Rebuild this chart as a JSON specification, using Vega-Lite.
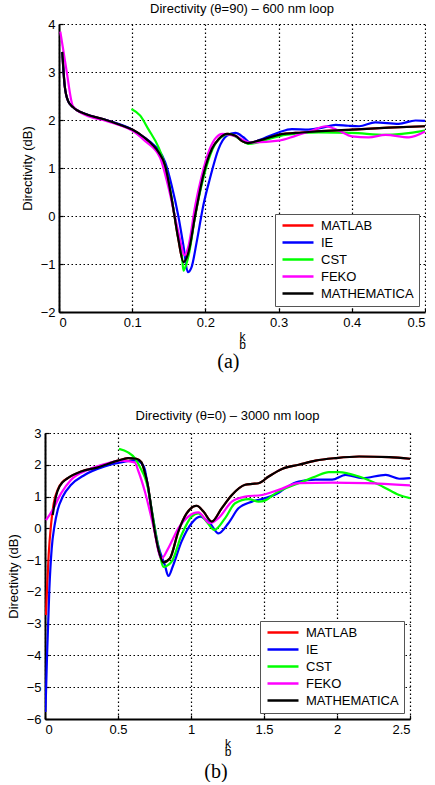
{
  "$schema": "https://vega.github.io/schema/vega-lite/v6.json",
  "padding": {"left": 7, "top": 3, "right": 0, "bottom": 0},
  "config": {
    "view": {"stroke": null},
    "font": "Liberation Sans",
    "axis": {"labelFont": "Liberation Sans", "labelFontSize": 13, "labelColor": "black", "titleFont": "Liberation Sans", "titleFontSize": 13, "titleFontWeight": "normal", "titleColor": "black", "grid": true, "gridColor": "black", "gridDash": [1.5, 2.5], "gridWidth": 1.2, "domainColor": "black", "domainWidth": 2, "ticks": true, "tickSize": -4, "tickColor": "black", "tickWidth": 1.2, "labelPadding": 8},
    "title": {"font": "Liberation Sans", "fontSize": 13, "fontWeight": "normal", "color": "black"},
    "legend": {"offset": 6, "symbolType": "M-1,0H6.75", "symbolSize": 64, "symbolStrokeWidth": 2.5, "labelFont": "Liberation Sans", "labelFontSize": 13, "labelColor": "black", "strokeColor": "#555555", "fillColor": "white", "padding": 5, "rowPadding": 3, "labelOffset": 28}
  },
  "datasets": {
    "a": [
      {"s": "MATLAB", "k": 0.0045, "D": 3.42}, {"s": "MATLAB", "k": 0.0078, "D": 2.71}, {"s": "MATLAB", "k": 0.0123, "D": 2.40}, {"s": "MATLAB", "k": 0.019, "D": 2.27}, {"s": "MATLAB", "k": 0.037, "D": 2.12}, {"s": "MATLAB", "k": 0.06, "D": 2.02}, {"s": "MATLAB", "k": 0.083, "D": 1.9}, {"s": "MATLAB", "k": 0.1, "D": 1.8}, {"s": "MATLAB", "k": 0.117, "D": 1.63}, {"s": "MATLAB", "k": 0.128, "D": 1.48}, {"s": "MATLAB", "k": 0.136, "D": 1.33}, {"s": "MATLAB", "k": 0.145, "D": 1.05}, {"s": "MATLAB", "k": 0.154, "D": 0.35}, {"s": "MATLAB", "k": 0.163, "D": -0.48}, {"s": "MATLAB", "k": 0.17, "D": -0.96}, {"s": "MATLAB", "k": 0.177, "D": -0.75}, {"s": "MATLAB", "k": 0.186, "D": 0.01}, {"s": "MATLAB", "k": 0.197, "D": 0.84}, {"s": "MATLAB", "k": 0.209, "D": 1.4}, {"s": "MATLAB", "k": 0.218, "D": 1.6}, {"s": "MATLAB", "k": 0.23, "D": 1.71}, {"s": "MATLAB", "k": 0.241, "D": 1.67}, {"s": "MATLAB", "k": 0.25, "D": 1.56}, {"s": "MATLAB", "k": 0.258, "D": 1.52}, {"s": "MATLAB", "k": 0.273, "D": 1.57}, {"s": "MATLAB", "k": 0.3, "D": 1.69}, {"s": "MATLAB", "k": 0.332, "D": 1.74}, {"s": "MATLAB", "k": 0.4, "D": 1.8}, {"s": "MATLAB", "k": 0.45, "D": 1.84}, {"s": "MATLAB", "k": 0.5, "D": 1.87},
      {"s": "IE", "k": 0.0045, "D": 3.42}, {"s": "IE", "k": 0.0078, "D": 2.71}, {"s": "IE", "k": 0.0123, "D": 2.40}, {"s": "IE", "k": 0.019, "D": 2.27}, {"s": "IE", "k": 0.037, "D": 2.12}, {"s": "IE", "k": 0.06, "D": 2.02}, {"s": "IE", "k": 0.083, "D": 1.91}, {"s": "IE", "k": 0.1, "D": 1.8}, {"s": "IE", "k": 0.117, "D": 1.63}, {"s": "IE", "k": 0.128, "D": 1.5}, {"s": "IE", "k": 0.136, "D": 1.38}, {"s": "IE", "k": 0.145, "D": 1.12}, {"s": "IE", "k": 0.154, "D": 0.63}, {"s": "IE", "k": 0.163, "D": 0.0}, {"s": "IE", "k": 0.17, "D": -0.62}, {"s": "IE", "k": 0.176, "D": -1.17}, {"s": "IE", "k": 0.181, "D": -1.07}, {"s": "IE", "k": 0.188, "D": -0.55}, {"s": "IE", "k": 0.197, "D": 0.21}, {"s": "IE", "k": 0.206, "D": 0.77}, {"s": "IE", "k": 0.218, "D": 1.4}, {"s": "IE", "k": 0.229, "D": 1.67}, {"s": "IE", "k": 0.241, "D": 1.73}, {"s": "IE", "k": 0.252, "D": 1.64}, {"s": "IE", "k": 0.261, "D": 1.53}, {"s": "IE", "k": 0.28, "D": 1.62}, {"s": "IE", "k": 0.3, "D": 1.74}, {"s": "IE", "k": 0.318, "D": 1.81}, {"s": "IE", "k": 0.341, "D": 1.8}, {"s": "IE", "k": 0.36, "D": 1.84}, {"s": "IE", "k": 0.378, "D": 1.9}, {"s": "IE", "k": 0.395, "D": 1.88}, {"s": "IE", "k": 0.41, "D": 1.87}, {"s": "IE", "k": 0.432, "D": 1.95}, {"s": "IE", "k": 0.464, "D": 1.92}, {"s": "IE", "k": 0.487, "D": 1.99}, {"s": "IE", "k": 0.5, "D": 1.98},
      {"s": "CST", "k": 0.099, "D": 2.23}, {"s": "CST", "k": 0.111, "D": 2.09}, {"s": "CST", "k": 0.122, "D": 1.81}, {"s": "CST", "k": 0.136, "D": 1.43}, {"s": "CST", "k": 0.145, "D": 1.05}, {"s": "CST", "k": 0.158, "D": 0.0}, {"s": "CST", "k": 0.163, "D": -0.45}, {"s": "CST", "k": 0.168, "D": -0.83}, {"s": "CST", "k": 0.17, "D": -1.14}, {"s": "CST", "k": 0.174, "D": -1.0}, {"s": "CST", "k": 0.177, "D": -0.83}, {"s": "CST", "k": 0.186, "D": 0.0}, {"s": "CST", "k": 0.198, "D": 0.84}, {"s": "CST", "k": 0.21, "D": 1.4}, {"s": "CST", "k": 0.222, "D": 1.65}, {"s": "CST", "k": 0.232, "D": 1.71}, {"s": "CST", "k": 0.245, "D": 1.62}, {"s": "CST", "k": 0.259, "D": 1.5}, {"s": "CST", "k": 0.286, "D": 1.6}, {"s": "CST", "k": 0.309, "D": 1.69}, {"s": "CST", "k": 0.355, "D": 1.74}, {"s": "CST", "k": 0.4, "D": 1.73}, {"s": "CST", "k": 0.446, "D": 1.69}, {"s": "CST", "k": 0.5, "D": 1.78},
      {"s": "FEKO", "k": 0.0018, "D": 3.84}, {"s": "FEKO", "k": 0.01, "D": 3.06}, {"s": "FEKO", "k": 0.019, "D": 2.29}, {"s": "FEKO", "k": 0.037, "D": 2.1}, {"s": "FEKO", "k": 0.06, "D": 2.0}, {"s": "FEKO", "k": 0.083, "D": 1.89}, {"s": "FEKO", "k": 0.1, "D": 1.78}, {"s": "FEKO", "k": 0.117, "D": 1.57}, {"s": "FEKO", "k": 0.138, "D": 1.22}, {"s": "FEKO", "k": 0.149, "D": 0.63}, {"s": "FEKO", "k": 0.161, "D": -0.2}, {"s": "FEKO", "k": 0.167, "D": -0.6}, {"s": "FEKO", "k": 0.171, "D": -0.82}, {"s": "FEKO", "k": 0.177, "D": -0.62}, {"s": "FEKO", "k": 0.186, "D": 0.21}, {"s": "FEKO", "k": 0.195, "D": 0.84}, {"s": "FEKO", "k": 0.206, "D": 1.4}, {"s": "FEKO", "k": 0.223, "D": 1.71}, {"s": "FEKO", "k": 0.24, "D": 1.67}, {"s": "FEKO", "k": 0.261, "D": 1.53}, {"s": "FEKO", "k": 0.3, "D": 1.57}, {"s": "FEKO", "k": 0.323, "D": 1.67}, {"s": "FEKO", "k": 0.346, "D": 1.78}, {"s": "FEKO", "k": 0.364, "D": 1.87}, {"s": "FEKO", "k": 0.382, "D": 1.78}, {"s": "FEKO", "k": 0.4, "D": 1.66}, {"s": "FEKO", "k": 0.423, "D": 1.64}, {"s": "FEKO", "k": 0.446, "D": 1.69}, {"s": "FEKO", "k": 0.478, "D": 1.64}, {"s": "FEKO", "k": 0.5, "D": 1.76},
      {"s": "MATHEMATICA", "k": 0.0045, "D": 3.42}, {"s": "MATHEMATICA", "k": 0.0078, "D": 2.71}, {"s": "MATHEMATICA", "k": 0.0123, "D": 2.40}, {"s": "MATHEMATICA", "k": 0.019, "D": 2.27}, {"s": "MATHEMATICA", "k": 0.037, "D": 2.12}, {"s": "MATHEMATICA", "k": 0.06, "D": 2.02}, {"s": "MATHEMATICA", "k": 0.083, "D": 1.9}, {"s": "MATHEMATICA", "k": 0.1, "D": 1.8}, {"s": "MATHEMATICA", "k": 0.117, "D": 1.63}, {"s": "MATHEMATICA", "k": 0.128, "D": 1.48}, {"s": "MATHEMATICA", "k": 0.136, "D": 1.33}, {"s": "MATHEMATICA", "k": 0.145, "D": 1.05}, {"s": "MATHEMATICA", "k": 0.154, "D": 0.35}, {"s": "MATHEMATICA", "k": 0.163, "D": -0.48}, {"s": "MATHEMATICA", "k": 0.17, "D": -0.96}, {"s": "MATHEMATICA", "k": 0.177, "D": -0.75}, {"s": "MATHEMATICA", "k": 0.186, "D": 0.01}, {"s": "MATHEMATICA", "k": 0.197, "D": 0.84}, {"s": "MATHEMATICA", "k": 0.209, "D": 1.4}, {"s": "MATHEMATICA", "k": 0.218, "D": 1.6}, {"s": "MATHEMATICA", "k": 0.23, "D": 1.71}, {"s": "MATHEMATICA", "k": 0.241, "D": 1.67}, {"s": "MATHEMATICA", "k": 0.25, "D": 1.56}, {"s": "MATHEMATICA", "k": 0.258, "D": 1.52}, {"s": "MATHEMATICA", "k": 0.273, "D": 1.57}, {"s": "MATHEMATICA", "k": 0.3, "D": 1.69}, {"s": "MATHEMATICA", "k": 0.332, "D": 1.74}, {"s": "MATHEMATICA", "k": 0.4, "D": 1.8}, {"s": "MATHEMATICA", "k": 0.45, "D": 1.84}, {"s": "MATHEMATICA", "k": 0.5, "D": 1.87}
    ],
    "b": [
      {"s": "MATLAB", "k": 0.007, "D": -2.73}, {"s": "MATLAB", "k": 0.014, "D": -1.89}, {"s": "MATLAB", "k": 0.025, "D": -0.84}, {"s": "MATLAB", "k": 0.041, "D": 0.1}, {"s": "MATLAB", "k": 0.06, "D": 0.79}, {"s": "MATLAB", "k": 0.09, "D": 1.25}, {"s": "MATLAB", "k": 0.12, "D": 1.46}, {"s": "MATLAB", "k": 0.156, "D": 1.58}, {"s": "MATLAB", "k": 0.248, "D": 1.79}, {"s": "MATLAB", "k": 0.362, "D": 1.92}, {"s": "MATLAB", "k": 0.5, "D": 2.13}, {"s": "MATLAB", "k": 0.569, "D": 2.21}, {"s": "MATLAB", "k": 0.626, "D": 2.19}, {"s": "MATLAB", "k": 0.66, "D": 2.08}, {"s": "MATLAB", "k": 0.684, "D": 1.75}, {"s": "MATLAB", "k": 0.706, "D": 1.32}, {"s": "MATLAB", "k": 0.718, "D": 0.95}, {"s": "MATLAB", "k": 0.752, "D": -0.1}, {"s": "MATLAB", "k": 0.787, "D": -0.84}, {"s": "MATLAB", "k": 0.81, "D": -1.07}, {"s": "MATLAB", "k": 0.855, "D": -0.95}, {"s": "MATLAB", "k": 0.913, "D": -0.1}, {"s": "MATLAB", "k": 0.97, "D": 0.47}, {"s": "MATLAB", "k": 1.039, "D": 0.71}, {"s": "MATLAB", "k": 1.085, "D": 0.53}, {"s": "MATLAB", "k": 1.142, "D": 0.21}, {"s": "MATLAB", "k": 1.21, "D": 0.63}, {"s": "MATLAB", "k": 1.28, "D": 1.05}, {"s": "MATLAB", "k": 1.371, "D": 1.37}, {"s": "MATLAB", "k": 1.42, "D": 1.4}, {"s": "MATLAB", "k": 1.463, "D": 1.42}, {"s": "MATLAB", "k": 1.532, "D": 1.63}, {"s": "MATLAB", "k": 1.623, "D": 1.87}, {"s": "MATLAB", "k": 1.738, "D": 2.0}, {"s": "MATLAB", "k": 1.853, "D": 2.13}, {"s": "MATLAB", "k": 1.99, "D": 2.21}, {"s": "MATLAB", "k": 2.151, "D": 2.26}, {"s": "MATLAB", "k": 2.357, "D": 2.24}, {"s": "MATLAB", "k": 2.5, "D": 2.19},
      {"s": "IE", "k": 0.003, "D": -5.78}, {"s": "IE", "k": 0.014, "D": -4.0}, {"s": "IE", "k": 0.03, "D": -1.89}, {"s": "IE", "k": 0.046, "D": -0.63}, {"s": "IE", "k": 0.065, "D": 0.08}, {"s": "IE", "k": 0.087, "D": 0.58}, {"s": "IE", "k": 0.122, "D": 1.0}, {"s": "IE", "k": 0.179, "D": 1.37}, {"s": "IE", "k": 0.271, "D": 1.68}, {"s": "IE", "k": 0.408, "D": 1.95}, {"s": "IE", "k": 0.546, "D": 2.1}, {"s": "IE", "k": 0.626, "D": 2.14}, {"s": "IE", "k": 0.66, "D": 2.05}, {"s": "IE", "k": 0.684, "D": 1.85}, {"s": "IE", "k": 0.695, "D": 1.58}, {"s": "IE", "k": 0.729, "D": 0.63}, {"s": "IE", "k": 0.775, "D": -0.53}, {"s": "IE", "k": 0.821, "D": -1.16}, {"s": "IE", "k": 0.845, "D": -1.5}, {"s": "IE", "k": 0.875, "D": -1.2}, {"s": "IE", "k": 0.935, "D": -0.42}, {"s": "IE", "k": 1.004, "D": 0.16}, {"s": "IE", "k": 1.062, "D": 0.37}, {"s": "IE", "k": 1.13, "D": 0.16}, {"s": "IE", "k": 1.188, "D": -0.16}, {"s": "IE", "k": 1.256, "D": 0.16}, {"s": "IE", "k": 1.325, "D": 0.63}, {"s": "IE", "k": 1.417, "D": 0.84}, {"s": "IE", "k": 1.509, "D": 0.95}, {"s": "IE", "k": 1.6, "D": 1.12}, {"s": "IE", "k": 1.65, "D": 1.28}, {"s": "IE", "k": 1.738, "D": 1.47}, {"s": "IE", "k": 1.853, "D": 1.53}, {"s": "IE", "k": 1.967, "D": 1.53}, {"s": "IE", "k": 2.059, "D": 1.68}, {"s": "IE", "k": 2.173, "D": 1.58}, {"s": "IE", "k": 2.334, "D": 1.68}, {"s": "IE", "k": 2.426, "D": 1.56}, {"s": "IE", "k": 2.5, "D": 1.58},
      {"s": "CST", "k": 0.507, "D": 2.5}, {"s": "CST", "k": 0.569, "D": 2.39}, {"s": "CST", "k": 0.615, "D": 2.21}, {"s": "CST", "k": 0.66, "D": 1.84}, {"s": "CST", "k": 0.684, "D": 1.6}, {"s": "CST", "k": 0.706, "D": 1.25}, {"s": "CST", "k": 0.73, "D": 0.6}, {"s": "CST", "k": 0.76, "D": -0.2}, {"s": "CST", "k": 0.79, "D": -0.9}, {"s": "CST", "k": 0.81, "D": -1.21}, {"s": "CST", "k": 0.867, "D": -1.05}, {"s": "CST", "k": 0.935, "D": -0.21}, {"s": "CST", "k": 1.004, "D": 0.37}, {"s": "CST", "k": 1.05, "D": 0.47}, {"s": "CST", "k": 1.107, "D": 0.21}, {"s": "CST", "k": 1.16, "D": -0.05}, {"s": "CST", "k": 1.234, "D": 0.32}, {"s": "CST", "k": 1.302, "D": 0.79}, {"s": "CST", "k": 1.394, "D": 0.92}, {"s": "CST", "k": 1.463, "D": 0.84}, {"s": "CST", "k": 1.509, "D": 0.88}, {"s": "CST", "k": 1.578, "D": 1.1}, {"s": "CST", "k": 1.738, "D": 1.42}, {"s": "CST", "k": 1.853, "D": 1.63}, {"s": "CST", "k": 1.944, "D": 1.77}, {"s": "CST", "k": 2.013, "D": 1.77}, {"s": "CST", "k": 2.151, "D": 1.63}, {"s": "CST", "k": 2.311, "D": 1.32}, {"s": "CST", "k": 2.426, "D": 1.05}, {"s": "CST", "k": 2.5, "D": 0.95},
      {"s": "FEKO", "k": 0.007, "D": 0.26}, {"s": "FEKO", "k": 0.053, "D": 0.58}, {"s": "FEKO", "k": 0.11, "D": 1.1}, {"s": "FEKO", "k": 0.179, "D": 1.53}, {"s": "FEKO", "k": 0.294, "D": 1.84}, {"s": "FEKO", "k": 0.408, "D": 2.02}, {"s": "FEKO", "k": 0.523, "D": 2.13}, {"s": "FEKO", "k": 0.615, "D": 2.07}, {"s": "FEKO", "k": 0.638, "D": 1.82}, {"s": "FEKO", "k": 0.684, "D": 1.16}, {"s": "FEKO", "k": 0.741, "D": 0.1}, {"s": "FEKO", "k": 0.798, "D": -0.95}, {"s": "FEKO", "k": 0.844, "D": -0.63}, {"s": "FEKO", "k": 0.913, "D": 0.0}, {"s": "FEKO", "k": 0.981, "D": 0.37}, {"s": "FEKO", "k": 1.05, "D": 0.5}, {"s": "FEKO", "k": 1.13, "D": 0.16}, {"s": "FEKO", "k": 1.188, "D": 0.32}, {"s": "FEKO", "k": 1.28, "D": 0.84}, {"s": "FEKO", "k": 1.371, "D": 1.0}, {"s": "FEKO", "k": 1.486, "D": 1.05}, {"s": "FEKO", "k": 1.6, "D": 1.21}, {"s": "FEKO", "k": 1.738, "D": 1.42}, {"s": "FEKO", "k": 1.967, "D": 1.44}, {"s": "FEKO", "k": 2.197, "D": 1.42}, {"s": "FEKO", "k": 2.5, "D": 1.35},
      {"s": "MATHEMATICA", "k": 0.053, "D": 0.42}, {"s": "MATHEMATICA", "k": 0.075, "D": 1.0}, {"s": "MATHEMATICA", "k": 0.099, "D": 1.32}, {"s": "MATHEMATICA", "k": 0.156, "D": 1.58}, {"s": "MATHEMATICA", "k": 0.248, "D": 1.79}, {"s": "MATHEMATICA", "k": 0.362, "D": 1.92}, {"s": "MATHEMATICA", "k": 0.5, "D": 2.13}, {"s": "MATHEMATICA", "k": 0.569, "D": 2.21}, {"s": "MATHEMATICA", "k": 0.626, "D": 2.19}, {"s": "MATHEMATICA", "k": 0.66, "D": 2.08}, {"s": "MATHEMATICA", "k": 0.684, "D": 1.75}, {"s": "MATHEMATICA", "k": 0.706, "D": 1.32}, {"s": "MATHEMATICA", "k": 0.718, "D": 0.95}, {"s": "MATHEMATICA", "k": 0.752, "D": -0.1}, {"s": "MATHEMATICA", "k": 0.787, "D": -0.84}, {"s": "MATHEMATICA", "k": 0.81, "D": -1.07}, {"s": "MATHEMATICA", "k": 0.855, "D": -0.95}, {"s": "MATHEMATICA", "k": 0.913, "D": -0.1}, {"s": "MATHEMATICA", "k": 0.97, "D": 0.47}, {"s": "MATHEMATICA", "k": 1.039, "D": 0.71}, {"s": "MATHEMATICA", "k": 1.085, "D": 0.53}, {"s": "MATHEMATICA", "k": 1.142, "D": 0.21}, {"s": "MATHEMATICA", "k": 1.21, "D": 0.63}, {"s": "MATHEMATICA", "k": 1.28, "D": 1.05}, {"s": "MATHEMATICA", "k": 1.371, "D": 1.37}, {"s": "MATHEMATICA", "k": 1.42, "D": 1.4}, {"s": "MATHEMATICA", "k": 1.463, "D": 1.42}, {"s": "MATHEMATICA", "k": 1.532, "D": 1.63}, {"s": "MATHEMATICA", "k": 1.623, "D": 1.87}, {"s": "MATHEMATICA", "k": 1.738, "D": 2.0}, {"s": "MATHEMATICA", "k": 1.853, "D": 2.13}, {"s": "MATHEMATICA", "k": 1.99, "D": 2.21}, {"s": "MATHEMATICA", "k": 2.151, "D": 2.26}, {"s": "MATHEMATICA", "k": 2.357, "D": 2.24}, {"s": "MATHEMATICA", "k": 2.5, "D": 2.19}
    ]
  },
  "vconcat": [
    {
      "title": {"text": "(a)", "orient": "bottom", "anchor": "middle", "font": "Liberation Serif", "fontSize": 20, "dx": 5, "offset": 2},
      "vconcat": [
        {
          "title": {"text": "Directivity (θ=90) – 600 nm loop", "offset": 2, "dx": 7},
          "width": 380,
          "height": 288,
          "data": {"name": "a"},
          "mark": {"type": "line", "strokeWidth": 2.2, "interpolate": "monotone", "clip": true},
          "encoding": {
            "x": {"field": "k", "type": "quantitative", "scale": {"domain": [0, 0.5], "nice": false, "range": [14, 380]}, "axis": {"values": [0, 0.1, 0.2, 0.3, 0.4, 0.5], "format": ".1~f", "title": ["k\u2009", "\u2009\u2009b"], "titleFontSize": 12, "titleLineHeight": 8, "titlePadding": 2}},
            "y": {"field": "D", "type": "quantitative", "scale": {"domain": [-2, 4], "nice": false}, "axis": {"values": [-2, -1, 0, 1, 2, 3, 4], "format": "d", "title": "Directivity (dB)", "titlePadding": 6, "offset": -14}},
            "color": {"field": "s", "type": "nominal", "scale": {"domain": ["MATLAB", "IE", "CST", "FEKO", "MATHEMATICA"], "range": ["#ff0000", "#0000ff", "#00ff00", "#ff00ff", "#000000"]}, "legend": {"title": null, "orient": "bottom-right"}}
          }
        }
      ],
      "resolve": {"scale": {"color": "independent"}, "legend": {"color": "independent"}}
    },
    {
      "title": {"text": "(b)", "orient": "bottom", "anchor": "middle", "font": "Liberation Serif", "fontSize": 20, "dx": 7, "offset": 5},
      "vconcat": [
        {
          "title": {"text": "Directivity (θ=0) – 3000 nm loop", "offset": 4},
          "width": 365,
          "height": 286,
          "data": {"name": "b"},
          "mark": {"type": "line", "strokeWidth": 2.2, "interpolate": "monotone", "clip": true},
          "encoding": {
            "x": {"field": "k", "type": "quantitative", "scale": {"domain": [0, 2.5], "nice": false}, "axis": {"values": [0, 0.5, 1, 1.5, 2, 2.5], "format": ".1~f", "title": ["k\u2009", "\u2009\u2009b"], "titleFontSize": 12, "titleLineHeight": 8, "titlePadding": 2}},
            "y": {"field": "D", "type": "quantitative", "scale": {"domain": [-6, 3], "nice": false}, "axis": {"values": [-6, -5, -4, -3, -2, -1, 0, 1, 2, 3], "format": "d", "title": "Directivity (dB)", "titlePadding": 6}},
            "color": {"field": "s", "type": "nominal", "scale": {"domain": ["MATLAB", "IE", "CST", "FEKO", "MATHEMATICA"], "range": ["#ff0000", "#0000ff", "#00ff00", "#ff00ff", "#000000"]}, "legend": {"title": null, "orient": "bottom-right"}}
          }
        }
      ],
      "resolve": {"scale": {"color": "independent"}, "legend": {"color": "independent"}}
    }
  ],
  "spacing": 38,
  "resolve": {"scale": {"x": "independent", "y": "independent", "color": "independent"}, "legend": {"color": "independent"}}
}
